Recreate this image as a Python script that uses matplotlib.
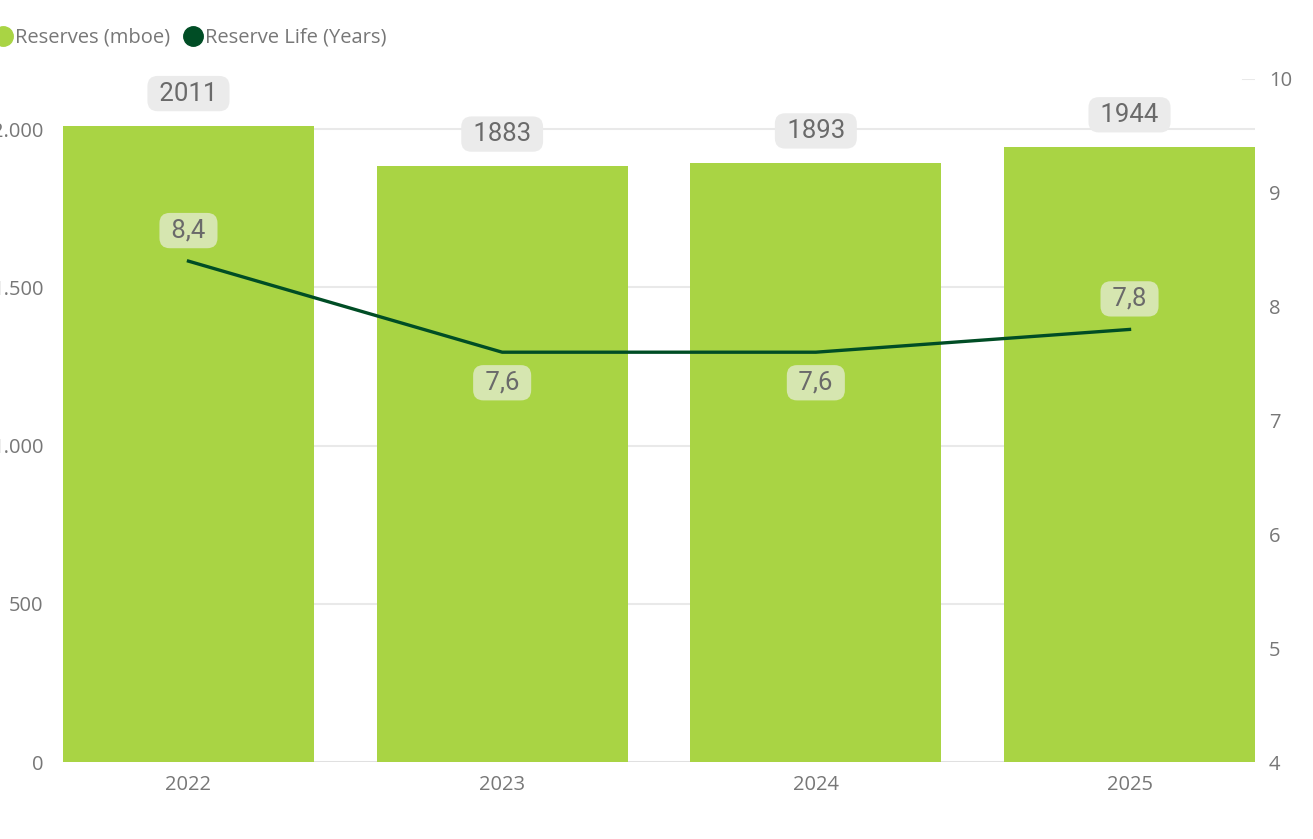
import matplotlib.pyplot as plt
from matplotlib.lines import Line2D
from matplotlib.ticker import FuncFormatter
import numpy as np

years = ["2022", "2023", "2024", "2025"]
reserves = [2011, 1883, 1893, 1944]
reserve_life = [8.4, 7.6, 7.6, 7.8]
life_labels = ["8,4", "7,6", "7,6", "7,8"]
# where the line label sits relative to its point (+1 above, -1 below)
life_label_side = [1, -1, -1, 1]

BAR = "#a9d444"
LINE = "#004d25"
GREY = "#777777"
GRID = "#e9e9e9"

plt.rcParams['font.family'] = ['Open Sans', 'DejaVu Sans']

fig = plt.figure(figsize=(13.13, 8.39), dpi=100)
ax = fig.add_axes([63 / 1313, 77 / 839, (1255 - 63) / 1313, (762 - 79) / 839])
ax2 = ax.twinx()

x = np.arange(len(years))
ax.bar(x, reserves, width=0.8, color=BAR, zorder=2)
ax.set_xlim(-0.4, 3.4)
ax.set_ylim(0, 2158)
ax.set_yticks([0, 500, 1000, 1500, 2000])
ax.yaxis.set_major_formatter(FuncFormatter(lambda v, p: f"{int(v):,}".replace(",", ".")))
ax.set_xticks(x)
ax.set_xticklabels(years)
ax.grid(axis='y', color=GRID, linewidth=1.5, zorder=0)
ax.set_axisbelow(True)
ax.axhline(0, color="#e0e0e0", linewidth=2, zorder=1)
for s in ax.spines.values():
    s.set_visible(False)
for s in ax2.spines.values():
    s.set_visible(False)
ax.tick_params(axis='y', length=0, pad=14, labelsize=14.5, labelcolor=GREY)
ax.tick_params(axis='x', length=0, pad=9, labelsize=14.5, labelcolor=GREY)

ax2.plot(x, reserve_life, color=LINE, linewidth=2.4, zorder=3)
ax2.set_ylim(4, 10)
ax2.set_yticks([4, 5, 6, 7, 8, 9, 10])
ax2.tick_params(axis='y', length=0, pad=10, labelsize=14.5, labelcolor=GREY)
ax2.axhline(10, xmin=0.99, xmax=1.0, color=GRID, linewidth=1.5)

for xi, v in zip(x, reserves):
    ax.annotate(f" {v} ", (xi, v), xytext=(0, 23), textcoords='offset points',
                ha='center', va='center', fontsize=18.5, color="#6a6a6a", family='Roboto',
                bbox=dict(boxstyle='round,pad=0.22,rounding_size=0.4', fc="#ebebeb", ec='none'))

for xi, v, lab, side in zip(x, reserve_life, life_labels, life_label_side):
    ax2.annotate(f" {lab} ", (xi, v), xytext=(0, 22 * side), textcoords='offset points',
                 ha='center', va='center', fontsize=18.5, color="#6a6a6a", family='Roboto',
                 bbox=dict(boxstyle='round,pad=0.22,rounding_size=0.4', fc="#d6e6b0", ec='none'),
                 zorder=4)

handles = [Line2D([], [], marker='o', linestyle='none', markersize=14, color=BAR),
           Line2D([], [], marker='o', linestyle='none', markersize=14, color=LINE)]
fig.legend(handles, ["Reserves (mboe)", "Reserve Life (Years)"], loc='center left',
           bbox_to_anchor=(-0.021, 1 - 38 / 839), ncol=2, frameon=False, fontsize=14.5,
           labelcolor=GREY, handletextpad=0.0, columnspacing=0.55, handlelength=1.2)

fig.savefig("out.png", dpi=100)
